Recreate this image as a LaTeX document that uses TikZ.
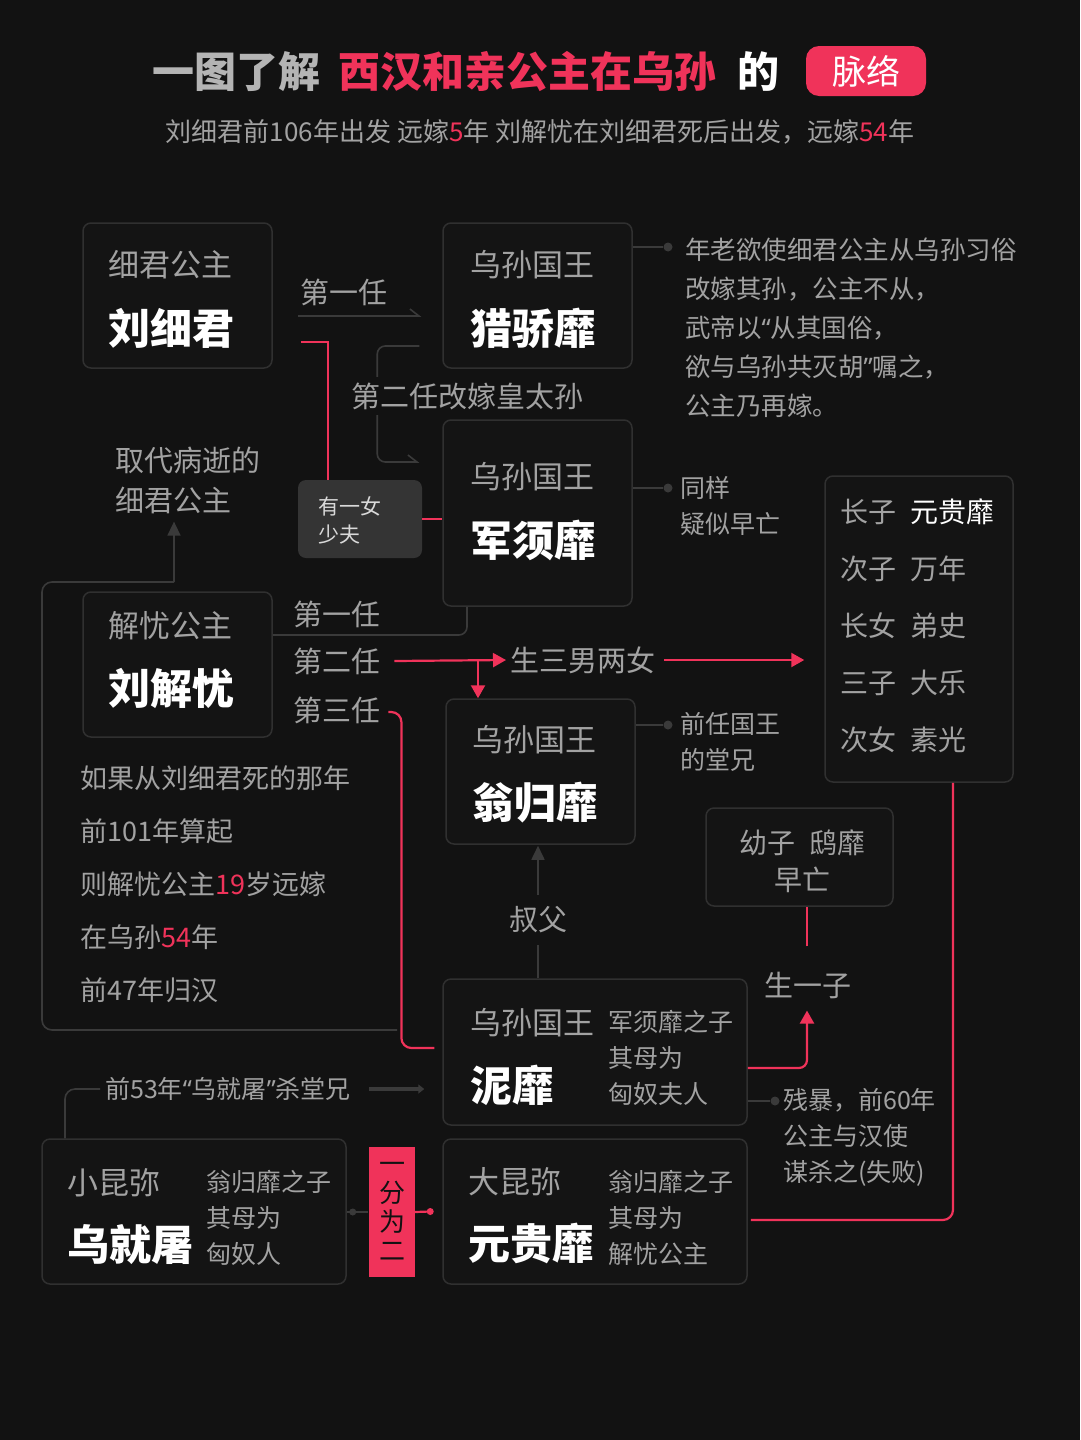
\documentclass[tikz,border=0pt]{standalone}
\usepackage{fontspec}
\setmainfont{Noto Sans CJK SC}
\newfontfamily\quotefont{Noto Sans}
\usepackage{xcolor}
\usetikzlibrary{arrows.meta,positioning,calc}

\definecolor{bg}{HTML}{121212}
\definecolor{boxbg}{HTML}{141414}
\definecolor{boxline}{HTML}{303030}
\definecolor{conn}{HTML}{3A3A3A}
\definecolor{txtgray}{HTML}{A2A2A2}
\definecolor{titlegray}{HTML}{B4B4B4}
\definecolor{accent}{HTML}{F0335A}
\definecolor{tagbg}{HTML}{343434}

\newcommand{\oq}{{\quotefont “}}
\newcommand{\cq}{{\quotefont ”}}

\begin{document}
\begin{tikzpicture}[x=1pt, y=-1pt,
    box/.style={draw=boxline, line width=1.5pt, rounded corners=8pt, fill=boxbg, inner sep=0pt},
    subt/.style={text=txtgray, font=\fontsize{31}{36}\selectfont, inner sep=0pt, anchor=west},
    bigname/.style={text=white, font=\fontsize{42}{48}\selectfont\bfseries, inner sep=0pt, anchor=west},
    note/.style={text=txtgray, font=\fontsize{25}{36}\selectfont, align=left, inner sep=0pt, anchor=west},
    lbl/.style={text=txtgray, font=\fontsize{29}{34}\selectfont, inner sep=0pt, anchor=west},
    gline/.style={draw=conn, line width=1.6pt},
    rline/.style={draw=accent, line width=2.2pt},
    enddot/.style={circle, fill=conn, minimum size=9pt, inner sep=0pt},
    harp/.style={gline, -{Straight Barb[left, length=9pt, width=14pt]}},
    gtri/.style={gline, -{Triangle[length=14pt, width=13pt]}},
    rarrow/.style={rline, -{Triangle[length=13pt, width=14pt]}}
]
\fill[bg] (0,0) rectangle (1080,1440);
\useasboundingbox (0,0) rectangle (1080,1440);

% title
\node[inner sep=0pt, anchor=west, text=titlegray, font=\fontsize{42}{48}\selectfont\bfseries] (ttla) at (152,72) {一图了解};
\node[inner sep=0pt, right=18pt of ttla, text=accent, font=\fontsize{42}{48}\selectfont\bfseries] (ttlb) {西汉和亲公主在乌孙};
\node[inner sep=0pt, right=20pt of ttlb, text=white, font=\fontsize{42}{48}\selectfont\bfseries] (ttlc) {的};
\node[fill=accent, rounded corners=13pt, minimum width=120pt, minimum height=50pt, text=white, font=\fontsize{34}{40}\selectfont] (ttltag) at (866,71) {脉络};
\node[inner sep=0pt, text=txtgray, font=\fontsize{26}{30}\selectfont] (subttl) at (540,132) {刘细君前106年出发 远嫁\textcolor{accent}{5}年 刘解忧在刘细君死后出发，远嫁\textcolor{accent}{54}年};

% boxes
\node[box, minimum width=189pt, minimum height=145pt] (lxj) at (177.5,295.5) {};
\node[box, minimum width=189pt, minimum height=145pt] (ljm) at (537.5,295.5) {};
\node[box, minimum width=189pt, minimum height=186pt] (jxm) at (537.5,513) {};
\node[box, minimum width=189pt, minimum height=145pt] (ljy) at (177.5,664.5) {};
\node[box, minimum width=189pt, minimum height=145pt] (wgm) at (540.5,771.5) {};
\node[box, minimum width=304pt, minimum height=146pt] (nm) at (595,1052) {};
\node[box, minimum width=304pt, minimum height=145pt] (wjt) at (194,1211.5) {};
\node[box, minimum width=304pt, minimum height=145pt] (yg) at (595,1211.5) {};
\node[box, minimum width=188pt, minimum height=306pt] (kids) at (919,629) {};
\node[box, minimum width=187pt, minimum height=98pt] (yz) at (799.5,857) {};
\node[fill=tagbg, rounded corners=8pt, minimum width=124pt, minimum height=78pt, inner sep=0pt] (tag) at (360,519) {};
\node[fill=accent, minimum width=46pt, minimum height=130pt, inner sep=0pt] (split) at (391.5,1212) {};

% box texts
\node[subt] (lxjsub) at (108,265) {细君公主};
\node[bigname] (lxjname) at (108,328) {刘细君};
\node[subt] (ljmsub) at (470,265) {乌孙国王};
\node[bigname] (ljmname) at (470,328) {猎骄靡};
\node[subt] (jxmsub) at (470,477) {乌孙国王};
\node[bigname] (jxmname) at (470,540) {军须靡};
\node[subt] (ljysub) at (108,626) {解忧公主};
\node[bigname] (ljyname) at (108,688) {刘解忧};
\node[subt] (wgmsub) at (472,740) {乌孙国王};
\node[bigname] (wgmname) at (472,803) {翁归靡};
\node[subt] (nmsub) at (470,1023) {乌孙国王};
\node[bigname] (nmname) at (470,1085) {泥靡};
\node[note] (nmnote) at (608,1057.5) {军须靡之子\\其母为\\匈奴夫人};
\node[subt] (wjtsub) at (67,1183) {小昆弥};
\node[bigname] (wjtname) at (67,1245) {乌就屠};
\node[note] (wjtnote) at (206,1218) {翁归靡之子\\其母为\\匈奴人};
\node[subt] (ygsub) at (468,1182) {大昆弥};
\node[bigname] (ygname) at (468,1243) {元贵靡};
\node[note] (ygnote) at (608,1218) {翁归靡之子\\其母为\\解忧公主};
\node[text=txtgray, font=\fontsize{28}{57}\selectfont, align=left, inner sep=0pt, anchor=west] (kidlist) at (840,625.5)
  {长子\hspace{14pt}\textcolor{white}{元贵靡}\\次子\hspace{14pt}万年\\长女\hspace{14pt}弟史\\三子\hspace{14pt}大乐\\次女\hspace{14pt}素光};
\node[text=txtgray, font=\fontsize{28}{37}\selectfont, align=center, inner sep=0pt] (yztext) at (802,861.5) {幼子\hspace{14pt}鸱靡\\早亡};
\node[text=white!85!black, font=\fontsize{21}{28}\selectfont, align=left, inner sep=0pt, anchor=west] (tagtext) at (318,520) {有一女\\少夫};
\node[text=bg, font=\fontsize{26}{29}\selectfont, align=center, inner sep=0pt] (splittext) at (392,1211) {一\\分\\为\\二};

% side notes
\node[enddot] (d1) at (668,247) {};
\node[enddot] (d2) at (668,488) {};
\node[enddot] (d3) at (668,725) {};
\node[enddot] (d4) at (775,1101) {};
\node[note, font=\fontsize{25.5}{39}\selectfont] (n1) at (685,328) {年老欲使细君公主从乌孙习俗\\改嫁其孙，公主不从，\\武帝以\oq 从其国俗，\\欲与乌孙共灭胡\cq 嘱之，\\公主乃再嫁。};
\node[note] (n2) at (680,506) {同样\\疑似早亡};
\node[note] (n3) at (680,742) {前任国王\\的堂兄};
\node[note] (n4) at (783,1137) {残暴，前60年\\公主与汉使\\谋杀之(失败)};
\draw[gline] (d1 -| ljm.east) -- (d1);
\draw[gline] (d2 -| jxm.east) -- (d2);
\draw[gline] (d3 -| wgm.east) -- (d3);
\draw[gline] (d4 -| nm.east) -- (d4);

% left notes
\node[lbl, align=left, font=\fontsize{29}{40}\selectfont] (qd) at (115,480) {取代病逝的\\细君公主};
\node[text=txtgray, font=\fontsize{27}{53}\selectfont, align=left, inner sep=0pt, anchor=west] (calc) at (80,884)
  {如果从刘细君死的那年\\前101年算起\\则解忧公主\textcolor{accent}{19}岁远嫁\\在乌孙\textcolor{accent}{54}年\\前47年归汉};

% labels
\node[lbl] (first) at (300,292) {第一任};
\node[lbl] (lfirst) at (293,614) {第一任};
\node[lbl] (lsecond) at (293,661) {第二任};
\node[lbl] (lthird) at (293,710) {第三任};
\node[lbl] (sxn) at (510,660) {生三男两女};
\node[lbl, anchor=center] (sf) at (538,920) {叔父};
\node[lbl, anchor=center] (syz) at (808,985) {生一子};
\node[note] (q53) at (105,1089) {前53年\oq 乌就屠\cq 杀堂兄};

% connectors
\draw[harp] ($(lxj.east)+(25,20.5)$) -- ($(ljm.west)+(-21,20.5)$);
\draw[harp, rounded corners=8pt] ($(ljm.west)+(-23,50.5)$) -- ++(-42,0) |- ($(jxm.west)+(-23,-51)$);
\node[lbl, fill=bg, inner ysep=6pt] (second) at (351,396) {第二任改嫁皇太孙};
\draw[rline] ($(lxj.east)+(28,46.5)$) -| ($(tag.north)+(-32,0)$);
\draw[rline] (tag.east) -- (tag.east -| jxm.west);

\coordinate (outerend) at (397,1030);
\coordinate (ljytop) at (174,582);
\draw[gline, rounded corners=10pt] (outerend) -| (42,582) -- (ljytop);
\draw[gtri] (ljytop) -- ($(ljytop |- qd.south)+(0,8)$);

\draw[gline, rounded corners=8pt] ($(ljy.east)+(0,-29.5)$) -| ($(jxm.south)+(-70.5,0)$);
\coordinate (fork) at (478,660);
\draw[rarrow] ($(lsecond.east)+(14,0)$) -- ($(sxn.west)+(-4,0)$);
\draw[rarrow] (fork) -- (fork |- wgm.north);
\draw[rarrow] ($(sxn.east)+(9,0)$) -- ($(kids.west)+(-20,31)$);
\draw[rline, rounded corners=10pt] ($(lthird.east)+(8,2)$) -- ++(13,0) |- ($(nm.west)+(-8,-4)$);

\draw[gline] (sf.south |- nm.north) -- ($(sf.south)+(0,12)$);
\draw[gtri] ($(sf.north)+(0,-12)$) -- ($(sf.north |- wgm.south)+(0,1)$);

\draw[rarrow, rounded corners=8pt] ($(nm.east)+(0,16)$) -| ($(syz.south)+(-1,12)$);
\draw[rline] ($(syz.north)+(-1,-25)$) -- ($(syz.north |- yz.south)+(-1,0)$);
\draw[rline, rounded corners=10pt] ($(kids.south)+(34,0)$) |- ($(yg.east)+(3,8.5)$);

\draw[gline, rounded corners=10pt] ($(wjt.north)+(-129,0)$) |- ($(q53.west)+(-5,0)$);
\draw[draw=conn, line width=4pt, -{Triangle[length=6pt, width=9pt]}] ($(q53.east)+(18,0)$) -- ($(nm.west)+(-18,37)$);

\draw[gline] (wjt.east |- split.west) -- (split.west);
\fill[conn] ($(wjt.east |- split.west)+(6,0)$) circle (3.5pt);
\draw[rline] (split.east) -- ($(yg.west)+(-12,0)$);
\fill[accent] ($(yg.west)+(-12,0)$) circle (3.5pt);
\end{tikzpicture}
\end{document}
